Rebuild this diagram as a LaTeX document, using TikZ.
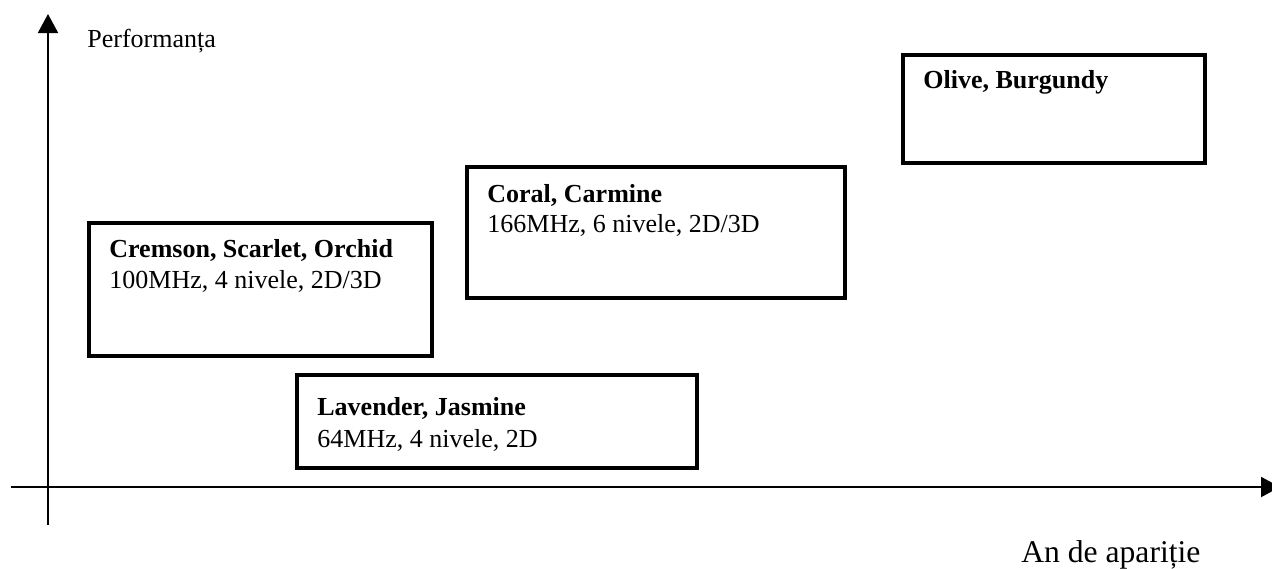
\documentclass[tikz,border=0pt]{standalone}
\usepackage{fontspec}
\setmainfont{Liberation Serif}
\usetikzlibrary{arrows.meta,positioning}

\tikzset{
  axis/.style={line width=1pt,-{Triangle[length=9.5pt,width=10pt]}},
  genbox/.style={draw,line width=1.75pt,anchor=north west,inner sep=0pt},
  txt/.style={anchor=base west,inner sep=0pt,font=\fontsize{13}{15.5}\selectfont},
}

\begin{document}
\begin{tikzpicture}[x=0.5pt,y=-0.5pt]
  \useasboundingbox (0,0) rectangle (1272,568);
  % axes
  \coordinate (ybot) at (48,525);
  \coordinate (ytop) at (48,14);
  \coordinate (xleft) at (11,487);
  \coordinate (xright) at (1280,487);
  \draw[axis] (ybot) -- (ytop);
  \draw[axis] (xleft) -- (xright);
  \node[txt] (perf) at (87,47) {Performanța};
  \node[txt,font=\fontsize{15.8}{19}\selectfont] (an) at (1021,562) {An de apariție};
  % generations of chips
  \node[genbox,minimum width=171.5pt,minimum height=66.5pt] (cremson) at (87,221) {};
  \node[txt] (cremsonname) at (109,257) {\textbf{Cremson, Scarlet, Orchid}};
  \node[txt] (cremsonspec) at (109,288) {100MHz, 4 nivele, 2D/3D};
  \node[genbox,minimum width=189pt,minimum height=65.5pt] (coral) at (465,165) {};
  \node[txt] (coralname) at (487,202) {\textbf{Coral, Carmine}};
  \node[txt] (coralspec) at (487,232) {166MHz, 6 nivele, 2D/3D};
  \node[genbox,minimum width=200pt,minimum height=46.5pt] (lavender) at (295,373) {};
  \node[txt] (lavendername) at (317,415) {\textbf{Lavender, Jasmine}};
  \node[txt] (lavenderspec) at (317,447) {64MHz, 4 nivele, 2D};
  \node[genbox,minimum width=151pt,minimum height=54pt] (olive) at (901,53) {};
  \node[txt] (olivename) at (923,88) {\textbf{Olive, Burgundy}};
\end{tikzpicture}
\end{document}
